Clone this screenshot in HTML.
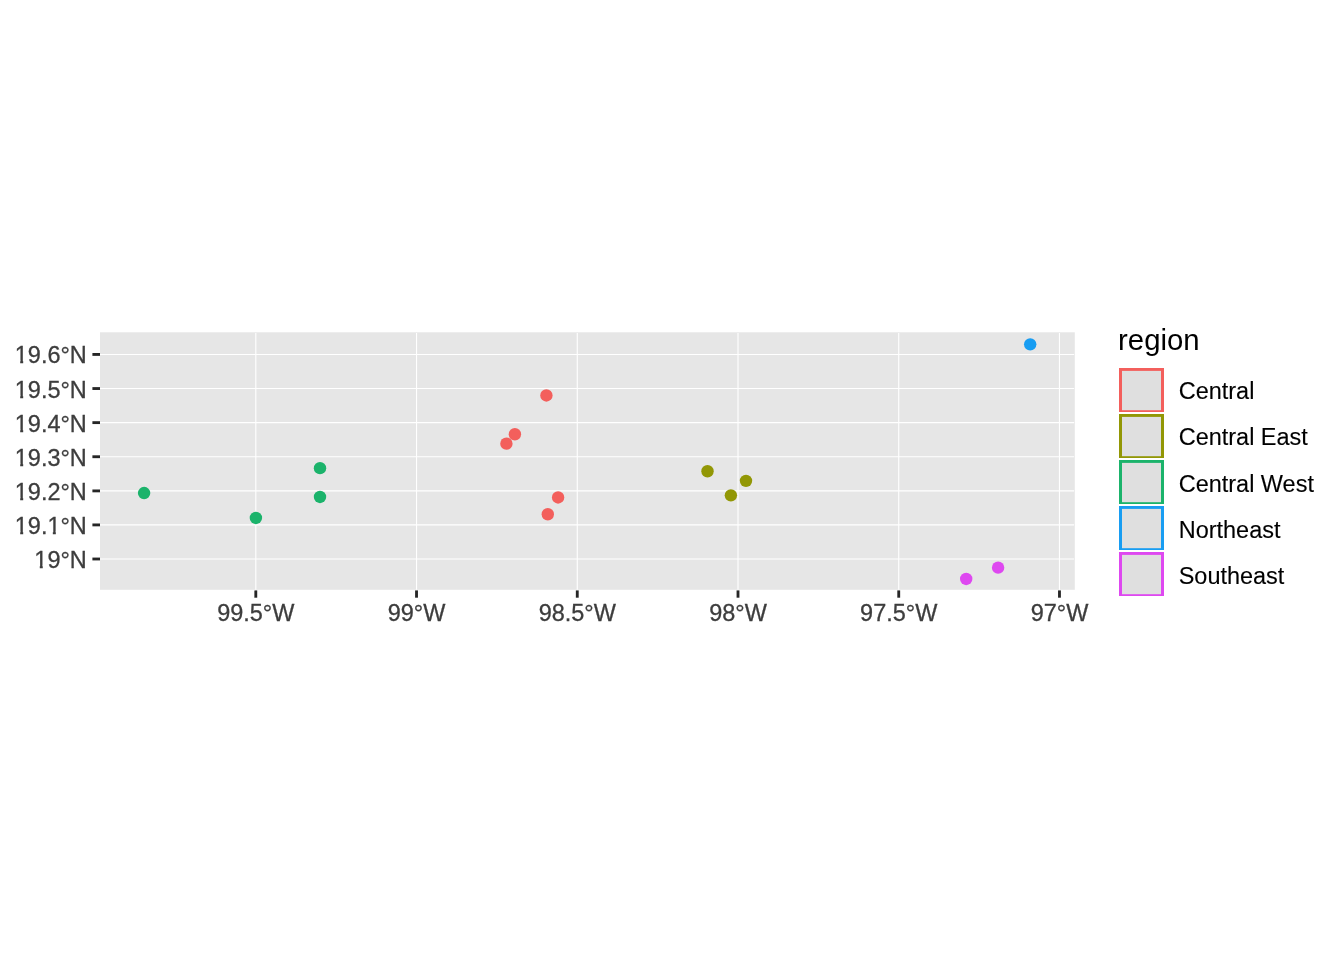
<!DOCTYPE html>
<html><head><meta charset="utf-8"><title>plot</title>
<style>
html,body{margin:0;padding:0;background:#fff;}
body{width:1344px;height:960px;overflow:hidden;}
svg{display:block;will-change:transform;}
text{font-family:"Liberation Sans",sans-serif;filter:grayscale(1);}
.ax{font-size:23.47px;fill:#3D3D3D;stroke:#3D3D3D;stroke-width:0.3px;}
.lg{font-size:23.47px;fill:#000;stroke:#000;stroke-width:0.12px;}
.lt{font-size:29.33px;fill:#000;}
</style></head><body>
<svg width="1344" height="960" viewBox="0 0 1344 960">
<rect x="0" y="0" width="1344" height="960" fill="#fff"/>
<rect x="100.00" y="332.30" width="974.80" height="257.50" fill="#E6E6E6"/>
<line x1="100.00" x2="1074.10" y1="354.45" y2="354.45" stroke="#FFFFFF" stroke-width="1.12"/>
<line x1="100.00" x2="1074.10" y1="388.54" y2="388.54" stroke="#FFFFFF" stroke-width="1.12"/>
<line x1="100.00" x2="1074.10" y1="422.63" y2="422.63" stroke="#FFFFFF" stroke-width="1.12"/>
<line x1="100.00" x2="1074.10" y1="456.73" y2="456.73" stroke="#FFFFFF" stroke-width="1.12"/>
<line x1="100.00" x2="1074.10" y1="490.90" y2="490.90" stroke="#FFFFFF" stroke-width="1.12"/>
<line x1="100.00" x2="1074.10" y1="524.91" y2="524.91" stroke="#FFFFFF" stroke-width="1.12"/>
<line x1="100.00" x2="1074.10" y1="559.00" y2="559.00" stroke="#FFFFFF" stroke-width="1.12"/>
<line x1="255.80" x2="255.80" y1="332.90" y2="589.80" stroke="#FFFFFF" stroke-width="1.12"/>
<line x1="416.53" x2="416.53" y1="332.90" y2="589.80" stroke="#FFFFFF" stroke-width="1.12"/>
<line x1="577.27" x2="577.27" y1="332.90" y2="589.80" stroke="#FFFFFF" stroke-width="1.12"/>
<line x1="738.00" x2="738.00" y1="332.90" y2="589.80" stroke="#FFFFFF" stroke-width="1.12"/>
<line x1="898.73" x2="898.73" y1="332.90" y2="589.80" stroke="#FFFFFF" stroke-width="1.12"/>
<line x1="1059.47" x2="1059.47" y1="332.90" y2="589.80" stroke="#FFFFFF" stroke-width="1.12"/>
<circle cx="546.40" cy="395.45" r="6.20" fill="#F35F5C"/>
<circle cx="514.90" cy="434.25" r="6.20" fill="#F35F5C"/>
<circle cx="506.40" cy="443.65" r="6.20" fill="#F35F5C"/>
<circle cx="558.10" cy="497.45" r="6.20" fill="#F35F5C"/>
<circle cx="547.80" cy="514.25" r="6.20" fill="#F35F5C"/>
<circle cx="707.50" cy="471.25" r="6.20" fill="#929705"/>
<circle cx="746.00" cy="480.85" r="6.20" fill="#929705"/>
<circle cx="730.90" cy="495.35" r="6.20" fill="#929705"/>
<circle cx="144.10" cy="493.05" r="6.20" fill="#1BB36B"/>
<circle cx="255.90" cy="517.95" r="6.20" fill="#1BB36B"/>
<circle cx="320.00" cy="468.15" r="6.20" fill="#1BB36B"/>
<circle cx="320.00" cy="496.95" r="6.20" fill="#1BB36B"/>
<circle cx="1030.20" cy="344.35" r="6.20" fill="#189DF2"/>
<circle cx="966.20" cy="578.95" r="6.20" fill="#DE48F0"/>
<circle cx="998.10" cy="567.65" r="6.20" fill="#DE48F0"/>
<line x1="92.40" x2="100.00" y1="354.45" y2="354.45" stroke="#262626" stroke-width="2.85"/>
<text class="ax" text-anchor="end" x="86.8" y="363.00">19.6°N</text>
<rect x="15.19" y="360.30" width="5.00" height="4.4" fill="#fff"/>
<rect x="23.19" y="360.30" width="4.60" height="4.4" fill="#fff"/>
<line x1="92.40" x2="100.00" y1="388.54" y2="388.54" stroke="#262626" stroke-width="2.85"/>
<text class="ax" text-anchor="end" x="86.8" y="398.00">19.5°N</text>
<rect x="15.19" y="395.30" width="5.00" height="4.4" fill="#fff"/>
<rect x="23.19" y="395.30" width="4.60" height="4.4" fill="#fff"/>
<line x1="92.40" x2="100.00" y1="422.63" y2="422.63" stroke="#262626" stroke-width="2.85"/>
<text class="ax" text-anchor="end" x="86.8" y="432.00">19.4°N</text>
<rect x="15.19" y="429.30" width="5.00" height="4.4" fill="#fff"/>
<rect x="23.19" y="429.30" width="4.60" height="4.4" fill="#fff"/>
<line x1="92.40" x2="100.00" y1="456.73" y2="456.73" stroke="#262626" stroke-width="2.85"/>
<text class="ax" text-anchor="end" x="86.8" y="466.00">19.3°N</text>
<rect x="15.19" y="463.30" width="5.00" height="4.4" fill="#fff"/>
<rect x="23.19" y="463.30" width="4.60" height="4.4" fill="#fff"/>
<line x1="92.40" x2="100.00" y1="490.90" y2="490.90" stroke="#262626" stroke-width="2.85"/>
<text class="ax" text-anchor="end" x="86.8" y="500.00">19.2°N</text>
<rect x="15.19" y="497.30" width="5.00" height="4.4" fill="#fff"/>
<rect x="23.19" y="497.30" width="4.60" height="4.4" fill="#fff"/>
<line x1="92.40" x2="100.00" y1="524.91" y2="524.91" stroke="#262626" stroke-width="2.85"/>
<text class="ax" text-anchor="end" x="86.8" y="534.00">19.1°N</text>
<rect x="15.19" y="531.30" width="5.00" height="4.4" fill="#fff"/>
<rect x="23.19" y="531.30" width="4.60" height="4.4" fill="#fff"/>
<rect x="47.82" y="531.30" width="5.00" height="4.4" fill="#fff"/>
<rect x="55.82" y="531.30" width="4.60" height="4.4" fill="#fff"/>
<line x1="92.40" x2="100.00" y1="559.00" y2="559.00" stroke="#262626" stroke-width="2.85"/>
<text class="ax" text-anchor="end" x="86.8" y="568.00">19°N</text>
<rect x="34.77" y="565.30" width="5.00" height="4.4" fill="#fff"/>
<rect x="42.77" y="565.30" width="4.60" height="4.4" fill="#fff"/>
<line x1="255.80" x2="255.80" y1="590.40" y2="597.70" stroke="#262626" stroke-width="2.85"/>
<text class="ax" text-anchor="middle" x="255.80" y="621.0">99.5°W</text>
<line x1="416.53" x2="416.53" y1="590.40" y2="597.70" stroke="#262626" stroke-width="2.85"/>
<text class="ax" text-anchor="middle" x="416.53" y="621.0">99°W</text>
<line x1="577.27" x2="577.27" y1="590.40" y2="597.70" stroke="#262626" stroke-width="2.85"/>
<text class="ax" text-anchor="middle" x="577.27" y="621.0">98.5°W</text>
<line x1="738.00" x2="738.00" y1="590.40" y2="597.70" stroke="#262626" stroke-width="2.85"/>
<text class="ax" text-anchor="middle" x="738.00" y="621.0">98°W</text>
<line x1="898.73" x2="898.73" y1="590.40" y2="597.70" stroke="#262626" stroke-width="2.85"/>
<text class="ax" text-anchor="middle" x="898.73" y="621.0">97.5°W</text>
<line x1="1059.47" x2="1059.47" y1="590.40" y2="597.70" stroke="#262626" stroke-width="2.85"/>
<text class="ax" text-anchor="middle" x="1059.47" y="621.0">97°W</text>
<text class="lt" x="1118.1" y="349.9">region</text>
<rect x="1119" y="368.00" width="45" height="44" fill="#F35F5C"/>
<rect x="1122" y="370.90" width="39" height="39.3" fill="#DFDFDF"/>
<text class="lg" x="1178.7" y="399.00">Central</text>
<rect x="1119" y="414.00" width="45" height="44" fill="#929705"/>
<rect x="1122" y="416.90" width="39" height="39.3" fill="#DFDFDF"/>
<text class="lg" x="1178.7" y="445.00">Central East</text>
<rect x="1119" y="460.00" width="45" height="44" fill="#1BB36B"/>
<rect x="1122" y="462.90" width="39" height="39.3" fill="#DFDFDF"/>
<text class="lg" x="1178.7" y="492.00">Central West</text>
<rect x="1119" y="506.00" width="45" height="44" fill="#189DF2"/>
<rect x="1122" y="508.90" width="39" height="39.3" fill="#DFDFDF"/>
<text class="lg" x="1178.7" y="538.00">Northeast</text>
<rect x="1119" y="552.00" width="45" height="44" fill="#DE48F0"/>
<rect x="1122" y="554.90" width="39" height="39.3" fill="#DFDFDF"/>
<text class="lg" x="1178.7" y="584.00">Southeast</text>
</svg>
</body></html>
